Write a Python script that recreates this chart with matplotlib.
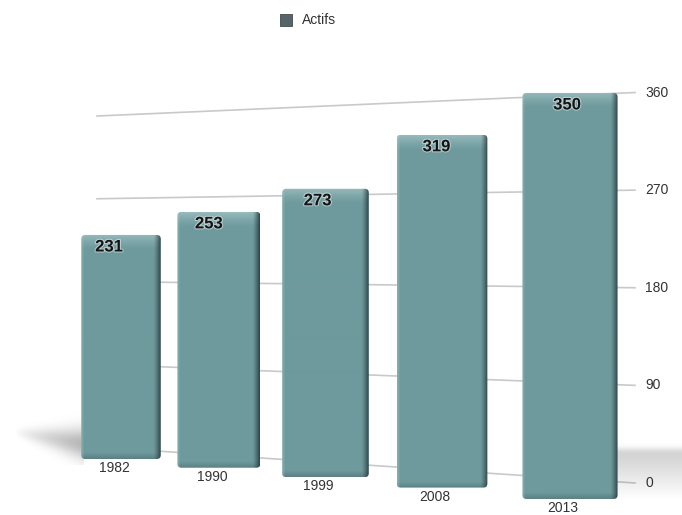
import numpy as np
import matplotlib.pyplot as plt
import matplotlib.patheffects as pe
from matplotlib.patches import FancyBboxPatch, Rectangle

plt.rcParams['font.family'] = ['Liberation Sans', 'DejaVu Sans']

# data
years = ['1982', '1990', '1999', '2008', '2013']
actifs = [231, 253, 273, 319, 350]
y_ticks = [0, 90, 180, 270, 360]
series_name = 'Actifs'

# perspective of the bars' front plane (u = slot index, v = value), pixel space
PA, PB, PC, PE0, PD, PG = 87.11, 75.01, -10.24, 454.91, 0.9505, -0.04015
BAR_W = 82          # bar width, in value units
# back wall the gridlines sit on: left / right end of each line
WALL_X = (97, 635)
WALL_Y0 = (447, 483)
WALL_K = (0.9194, 1.0847)


def front(u, v):
    w = 1 + PG * u
    return (PA * u + PB) / w, (PC * u + PE0 - PD * v) / w


def scale(u):
    return PD / (1 + PG * u)


def wall(v):
    return ([WALL_X[0], WALL_X[1]],
            [WALL_Y0[0] - WALL_K[0] * v, WALL_Y0[1] - WALL_K[1] * v])


def bar_image(w, h):
    base = np.array([110, 154, 157]) / 255.
    light = np.array([178, 208, 208]) / 255.
    dark = np.array([38, 58, 61]) / 255.
    xs = np.arange(w)[None, :]
    ys = np.arange(h)[:, None]
    img = np.ones((h, w, 3)) * base
    # soft highlight towards the top, darker bottom rim
    top = np.clip(1 - ys / 16., 0, 1) ** 1.5 * 0.6
    img = img * (1 - top[..., None]) + light * top[..., None]
    bot = np.clip(1 - (h - 1 - ys) / 6., 0, 1) * 0.25
    img = img * (1 - bot[..., None]) + dark * bot[..., None]
    # slightly lighter left edge
    lft = np.clip(1 - xs / 3., 0, 1) * 0.35
    img = img * (1 - lft[..., None]) + light * lft[..., None]
    # dark right side
    rgt = np.clip(1 - (w - 1 - xs) / 7., 0, 1) ** 1.3 * 0.85
    img = img * (1 - rgt[..., None]) + dark * rgt[..., None]
    return np.clip(img, 0, 1)


fig = plt.figure(figsize=(6.82, 5.15), dpi=100)
ax = fig.add_axes([0, 0, 1, 1])
ax.axis('off')

# gridlines on the back wall + value labels
for t in y_ticks:
    xs, ys = wall(t)
    ax.plot(xs, ys, color='#c9c9c9', lw=1.2, zorder=1)
    ax.text(645, ys[1], str(t), fontsize=10, color='#333333',
            ha='left', va='center')

# floor shadows at both ends of the row
xl0, xl1, yl0, yl1 = 10, 84, 410, 465
gx, gy = np.meshgrid(np.linspace(xl0, xl1, 150), np.linspace(yl0, yl1, 110))
t = (gx - 15) / (xl1 - 15)
cy = 432 + 12 * t
sig = 3 + 8 * np.clip(t, 0, 1)
a = np.exp(-0.5 * ((gy - cy) / sig) ** 2) * np.clip(t, 0, 1) ** 0.8 * 0.45
rgba = np.zeros(gx.shape + (4,))
rgba[..., :3] = 0.35
rgba[..., 3] = a
ax.imshow(rgba, extent=[xl0, xl1, yl1, yl0], interpolation='bilinear',
          zorder=1.5, aspect='auto')

xr0, xr1, yr0, yr1 = 605, 682, 438, 508
gx, gy = np.meshgrid(np.linspace(xr0, xr1, 150), np.linspace(yr0, yr1, 140))
edge = 1 / (1 + np.exp(-(gy - 449) / 1.8))
fade = np.clip(1 - (gy - 452) / 48., 0, 1)
a = edge * fade * 0.3
rgba = np.zeros(gx.shape + (4,))
rgba[..., :3] = 0.38
rgba[..., 3] = a
ax.imshow(rgba, extent=[xr0, xr1, yr1, yr0], interpolation='bilinear',
          zorder=1.5, aspect='auto')

# bars
for i, (yr, val) in enumerate(zip(years, actifs)):
    u = i + 0.5
    xc, yb = front(u, 0)
    _, yt = front(u, val)
    hw = BAR_W * scale(u) / 2
    x0, x1 = xc - hw, xc + hw
    clip = FancyBboxPatch((x0, yt), x1 - x0, yb - yt,
                          boxstyle='round,pad=0,rounding_size=4',
                          facecolor='none', edgecolor='none')
    ax.add_patch(clip)
    im = ax.imshow(bar_image(int(round(x1 - x0)), int(round(yb - yt))),
                   extent=[x0, x1, yb, yt], interpolation='bilinear',
                   zorder=3, aspect='auto')
    im.set_clip_path(clip)

    # value label near the top, year label under the bar
    lx = 720 + (xc - 720) * 1.02
    ax.text(lx, yt + 12, str(val), fontsize=12, fontweight='bold',
            color='#151515', ha='center', va='center', zorder=5,
            path_effects=[pe.withStroke(linewidth=1.5, foreground='white', alpha=0.5)])
    ax.text(xc - 7, yb + 9, yr, fontsize=10, color='#333333',
            ha='center', va='center', zorder=5)

# legend
ax.add_patch(Rectangle((280, 14), 12, 12, facecolor='#566668',
                       edgecolor='#3f4c4e', lw=0.6, zorder=5))
ax.text(302, 20.5, series_name, fontsize=10, color='#333333',
        ha='left', va='center')

ax.set_xlim(0, 682)
ax.set_ylim(515, 0)

plt.savefig('out.png', dpi=100)
